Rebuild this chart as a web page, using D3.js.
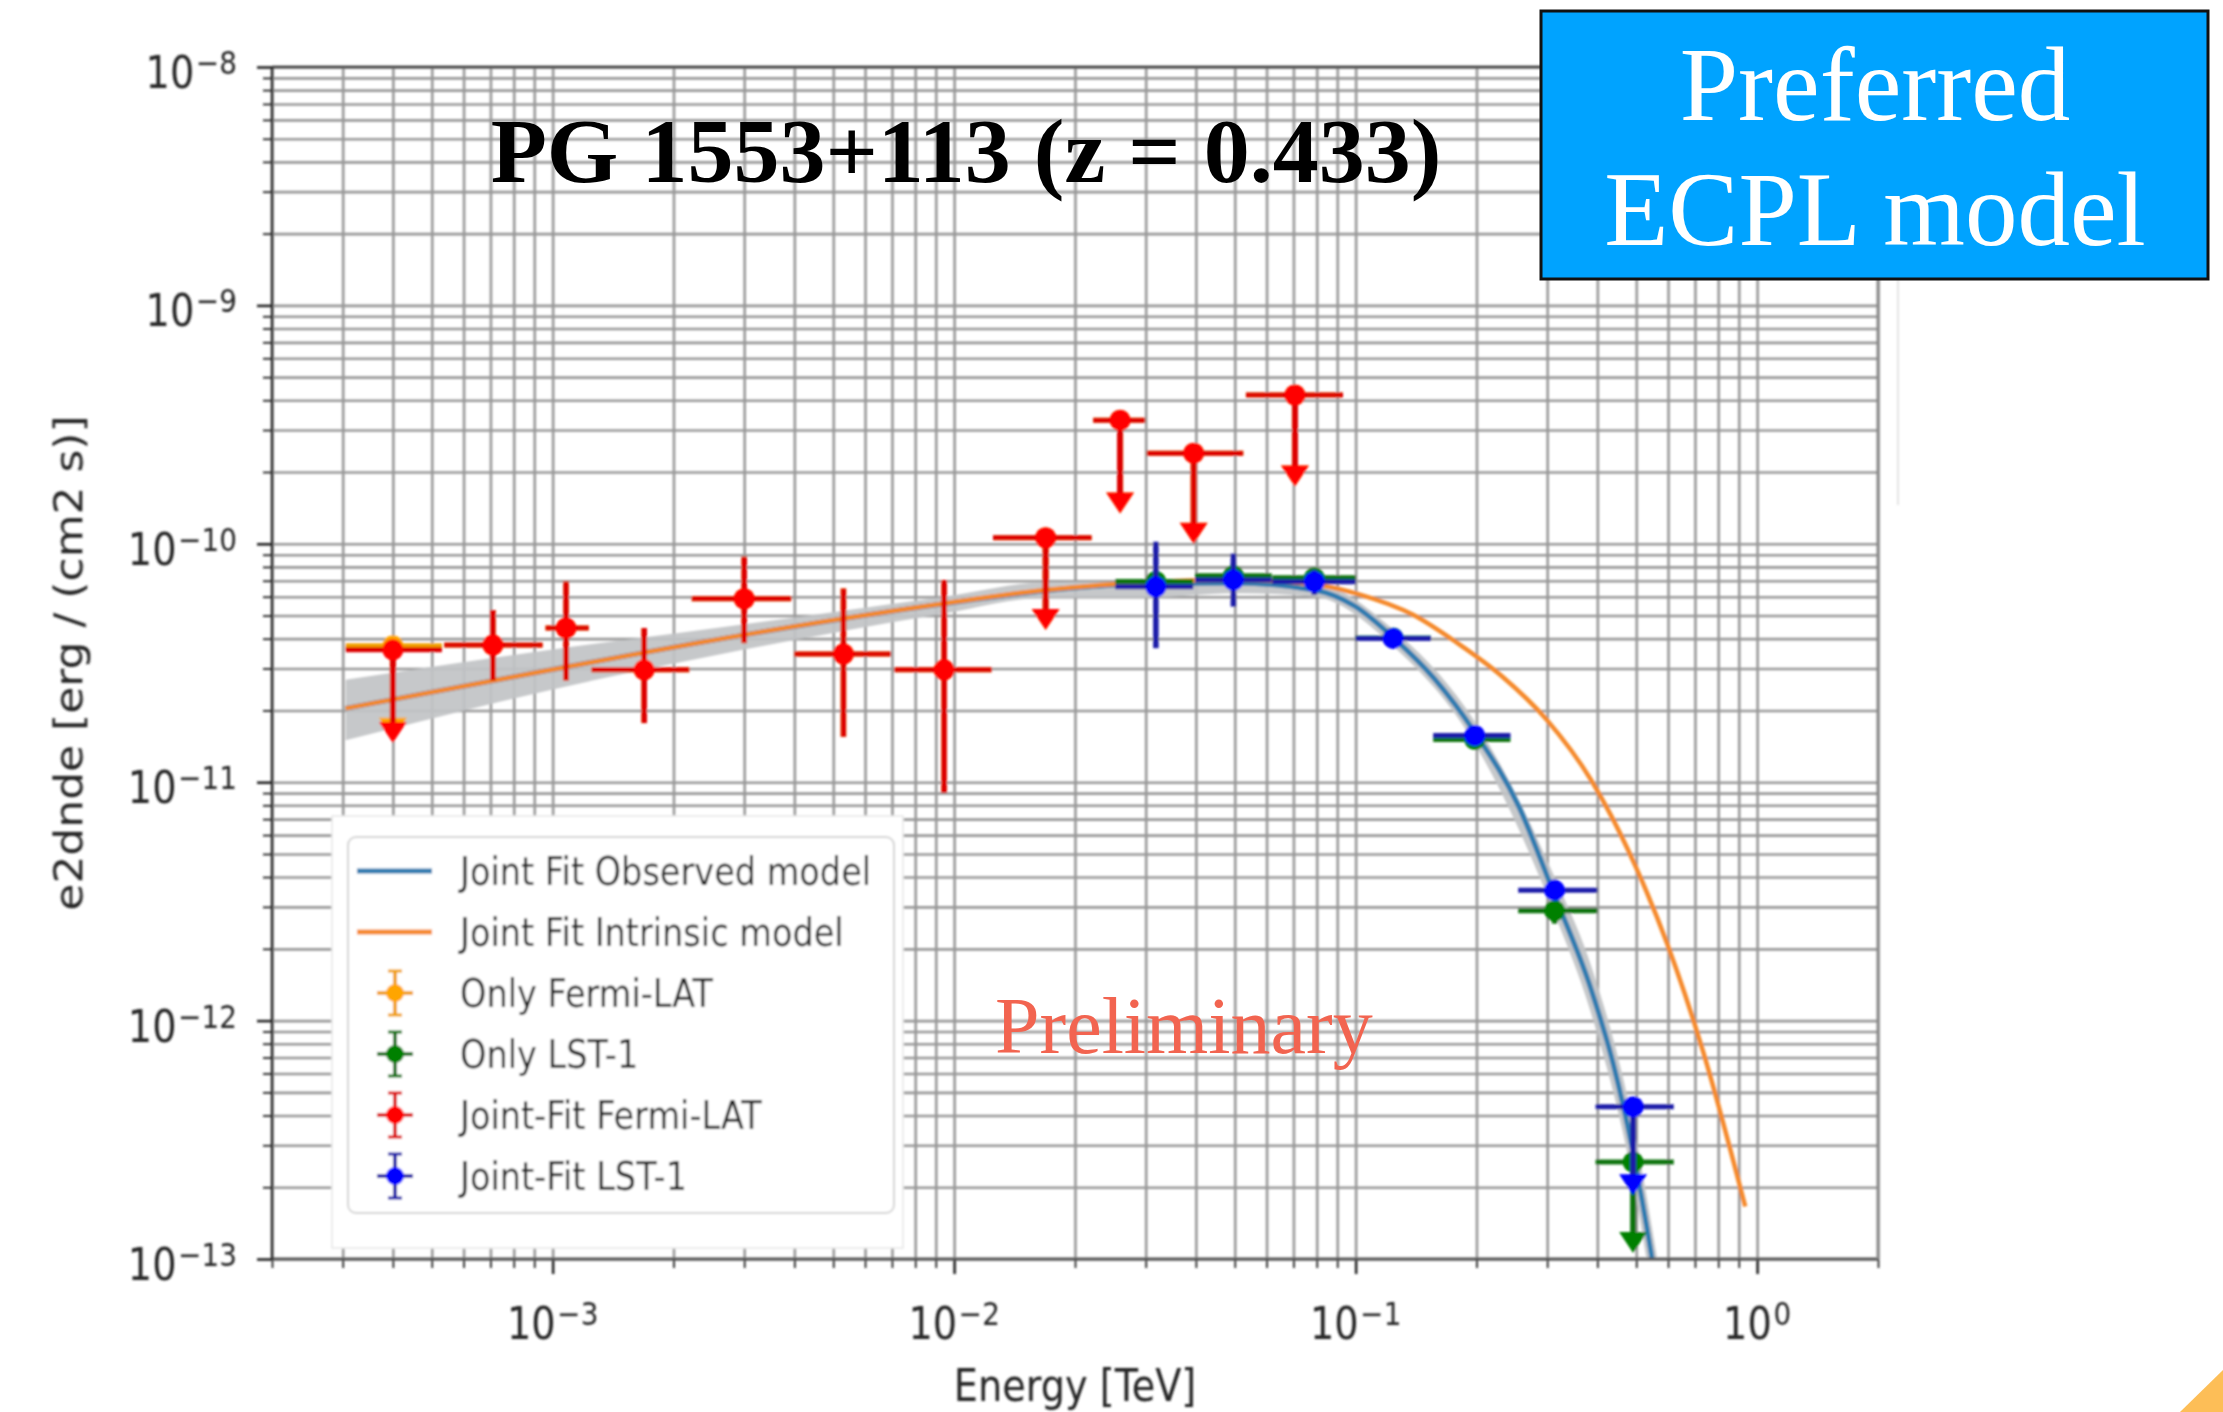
<!DOCTYPE html>
<html>
<head>
<meta charset="utf-8">
<script src="https://cdn.jsdelivr.net/npm/d3@7"></script>
<style>
  html, body { margin: 0; padding: 0; background: #ffffff; }
  svg { display: block; }
</style>
</head>
<body>
<svg id="chart" width="2223" height="1412"></svg>
<script>
// ---------------- data ----------------
// axis limits and labelled ticks
const energyRange = [2e-4, 2];          // TeV
const fluxRange = [1e-13, 1e-8];        // erg / (cm2 s)
const energyTicks = [1e-3, 1e-2, 1e-1, 1e0];
const energyTickExponents = ["\u22123", "\u22122", "\u22121", "0"];
const fluxTicks = [1e-13, 1e-12, 1e-11, 1e-10, 1e-9, 1e-8];
const fluxTickExponents = ["\u221213", "\u221212", "\u221211", "\u221210", "\u22129", "\u22128"];

// Joint-Fit Fermi-LAT flux points (upper limits carry the arrow tip in the "low" list)
const fermiJointEnergy = [4.0e-4, 7.1e-4, 1.08e-3, 1.69e-3, 3.0e-3, 5.3e-3, 9.44e-3, 1.69e-2, 2.59e-2, 3.95e-2, 7.06e-2];
const fermiJointEmin   = [3.05e-4, 5.37e-4, 9.6e-4, 1.25e-3, 2.22e-3, 4.0e-3, 7.1e-3, 1.25e-2, 2.22e-2, 3.02e-2, 5.33e-2];
const fermiJointEmax   = [5.3e-4, 9.44e-4, 1.23e-3, 2.19e-3, 3.93e-3, 6.95e-3, 1.24e-2, 2.2e-2, 2.99e-2, 5.25e-2, 9.3e-2];
const fermiJointFlux   = [3.59e-11, 3.76e-11, 4.43e-11, 2.96e-11, 5.88e-11, 3.45e-11, 2.96e-11, 1.06e-10, 3.30e-10, 2.40e-10, 4.21e-10];
const fermiJointHigh   = [null, 5.27e-11, 6.95e-11, 4.43e-11, 8.83e-11, 6.5e-11, 7.05e-11, null, null, null, null];
const fermiJointLow    = [1.46e-11, 2.67e-11, 2.67e-11, 1.77e-11, 3.83e-11, 1.55e-11, 9.0e-12, 4.35e-11, 1.34e-10, 1.0e-10, 1.74e-10];
const fermiJointUL     = [true, false, false, false, false, false, false, true, true, true, true];

// Fermi-LAT only flux points (same bins)
const fermiOnlyFlux = [3.74e-11, 3.76e-11, 4.43e-11, 2.96e-11, 5.88e-11, 3.45e-11, 2.96e-11, 1.06e-10, 3.30e-10, 2.40e-10, 4.21e-10];
const fermiOnlyHigh = [null, 5.27e-11, 6.95e-11, 4.43e-11, 8.83e-11, 6.5e-11, 7.05e-11, null, null, null, null];
const fermiOnlyLow  = [1.52e-11, 2.67e-11, 2.67e-11, 1.77e-11, 3.83e-11, 1.55e-11, 9.0e-12, 4.35e-11, 1.34e-10, 1.0e-10, 1.74e-10];

// LST-1 energy bins
const lstEnergy = [3.18e-2, 4.96e-2, 7.89e-2, 0.124, 0.198, 0.313, 0.491];
const lstEmin   = [2.52e-2, 3.98e-2, 6.2e-2, 0.1, 0.156, 0.254, 0.396];
const lstEmax   = [3.94e-2, 6.18e-2, 0.1, 0.154, 0.243, 0.40, 0.62];
const lstUL     = [false, false, false, false, false, false, true];

// Joint-Fit LST-1 flux points
const lstJointFlux = [6.6e-11, 7.05e-11, 6.93e-11, 4.01e-11, 1.57e-11, 3.52e-12, 4.35e-13];
const lstJointHigh = [1.02e-10, 9.1e-11, 7.76e-11, 4.4e-11, 1.72e-11, 3.9e-12, null];
const lstJointLow  = [3.65e-11, 5.45e-11, 6.1e-11, 3.7e-11, 1.42e-11, 3.2e-12, 1.85e-13];

// LST-1 only flux points
const lstOnlyFlux = [6.95e-11, 7.35e-11, 7.2e-11, 4.03e-11, 1.51e-11, 2.89e-12, 2.55e-13];
const lstOnlyHigh = [7.6e-11, 8.3e-11, 7.8e-11, 4.4e-11, 1.65e-11, 3.1e-12, null];
const lstOnlyLow  = [6.4e-11, 6.5e-11, 6.7e-11, 3.7e-11, 1.38e-11, 2.55e-12, 1.06e-13];

// joint-fit models (ECPL): intrinsic and EBL-absorbed (observed)
const intrinsicEnergy = [3.05e-4, 1e-3, 3e-3, 9.44e-3, 1.69e-2, 3e-2, 5e-2, 7.9e-2, 0.102, 0.139, 0.179, 0.231, 0.299, 0.386, 0.499, 0.597, 0.733, 0.934];
const intrinsicFlux   = [2.04e-11, 2.97e-11, 4.15e-11, 5.62e-11, 6.4e-11, 6.9e-11, 7.05e-11, 6.75e-11, 6.14e-11, 5.04e-11, 3.84e-11, 2.79e-11, 1.83e-11, 1.02e-11, 4.4e-12, 2.1e-12, 7.45e-13, 1.66e-13];
const observedEnergy  = [3.05e-4, 1e-3, 3e-3, 9.44e-3, 1.69e-2, 3e-2, 5e-2, 7.89e-2, 0.1, 0.1245, 0.157, 0.198, 0.255, 0.313, 0.386, 0.438, 0.491, 0.545, 0.57];
const observedFlux    = [2.04e-11, 2.97e-11, 4.15e-11, 5.6e-11, 6.35e-11, 6.8e-11, 6.85e-11, 6.4e-11, 5.45e-11, 4.02e-11, 2.72e-11, 1.62e-11, 7.9e-12, 3.35e-12, 1.35e-12, 6.6e-13, 2.8e-13, 1.05e-13, 6.5e-14];
// uncertainty band of the observed model
const bandEnergy = [3.05e-4, 1e-3, 3e-3, 9.44e-3, 1.69e-2, 3e-2, 5e-2, 7.89e-2, 0.1245, 0.198, 0.313, 0.386, 0.491, 0.57];
const bandHigh   = [2.69e-11, 3.6e-11, 4.6e-11, 6.0e-11, 6.9e-11, 6.95e-11, 7.2e-11, 6.9e-11, 4.35e-11, 1.8e-11, 4.0e-12, 1.7e-12, 3.7e-13, 9e-14];
const bandLow    = [1.5e-11, 2.45e-11, 3.6e-11, 5.1e-11, 5.94e-11, 5.94e-11, 6.2e-11, 6.0e-11, 3.7e-11, 1.45e-11, 2.8e-12, 1.07e-12, 2.1e-13, 4.6e-14];

const legendLabels = ["Joint Fit Observed model", "Joint Fit Intrinsic model", "Only Fermi-LAT", "Only LST-1", "Joint-Fit Fermi-LAT", "Joint-Fit LST-1"];

// ---------------- layout ----------------
const W = 2223, H = 1412;
const plot = { left: 272, right: 1878, top: 67, bottom: 1259 };
const SQ = 0.87;              // horizontal squeeze of the plot lettering
const sans = "'DejaVu Sans', 'Liberation Sans', sans-serif";
const serif = "'Liberation Serif', 'Times New Roman', serif";

const x = d3.scaleLog().domain(energyRange).range([plot.left, plot.right]);
const y = d3.scaleLog().domain(fluxRange).range([plot.bottom, plot.top]);

const svg = d3.select("#chart");
svg.append("rect").attr("width", W).attr("height", H).attr("fill", "#ffffff");

const defs = svg.append("defs");
defs.append("clipPath").attr("id", "plotClip")
  .append("rect")
  .attr("x", plot.left).attr("y", plot.top)
  .attr("width", plot.right - plot.left).attr("height", plot.bottom - plot.top);
// the figure itself is a little soft
defs.append("filter").attr("id", "soft").attr("x", "-2%").attr("y", "-2%").attr("width", "104%").attr("height", "104%")
  .append("feGaussianBlur").attr("stdDeviation", 0.8);

const fig = svg.append("g").attr("filter", "url(#soft)");

// minor tick positions within a log range
function minorValues(range) {
  const out = [];
  const p0 = Math.floor(Math.log10(range[0])), p1 = Math.ceil(Math.log10(range[1]));
  for (let p = p0; p <= p1; p++) {
    for (let k = 2; k <= 9; k++) {
      const v = k * Math.pow(10, p);
      if (v >= range[0] * 0.999 && v <= range[1] * 1.001) out.push(v);
    }
  }
  return out;
}
const xMinor = minorValues(energyRange);
const yMinor = minorValues(fluxRange);

// ---------------- grid ----------------
const grid = fig.append("g").attr("class", "grid");
grid.append("g")
  .attr("transform", `translate(0,${plot.bottom})`)
  .call(d3.axisBottom(x).tickValues(energyTicks.concat(xMinor)).tickSize(-(plot.bottom - plot.top)).tickFormat(""))
  .call(g => g.select(".domain").remove())
  .call(g => g.selectAll("line").attr("stroke", "#989898").attr("stroke-width", 2.6));
grid.append("g")
  .attr("transform", `translate(${plot.left},0)`)
  .call(d3.axisLeft(y).tickValues(fluxTicks.concat(yMinor)).tickSize(-(plot.right - plot.left)).tickFormat(""))
  .call(g => g.select(".domain").remove())
  .call(g => g.selectAll("line").attr("stroke", "#989898").attr("stroke-width", 2.6));

// ---------------- models ----------------
const data = fig.append("g").attr("clip-path", "url(#plotClip)");

const band = bandEnergy.map((e, i) => [e, bandLow[i], bandHigh[i]]);
data.append("path")
  .datum(band)
  .attr("d", d3.area().x(d => x(d[0])).y0(d => y(d[1])).y1(d => y(d[2])).curve(d3.curveMonotoneX))
  .attr("fill", "#c1c3c6").attr("opacity", 0.92);

const modelLine = d3.line().x(d => x(d[0])).y(d => y(d[1])).curve(d3.curveMonotoneX);
data.append("path")
  .datum(observedEnergy.map((e, i) => [e, observedFlux[i]]))
  .attr("d", modelLine)
  .attr("fill", "none").attr("stroke", "#2f7bb0").attr("stroke-width", 5);
data.append("path")
  .datum(intrinsicEnergy.map((e, i) => [e, intrinsicFlux[i]]))
  .attr("d", modelLine)
  .attr("fill", "none").attr("stroke", "#f5892a").attr("stroke-width", 4.5);

// ---------------- flux points ----------------
function drawPoints(layer, s) {
  const g = layer.append("g");
  s.energy.forEach((e, i) => {
    const cx = x(e), cy = y(s.flux[i]);
    g.append("line")
      .attr("x1", x(s.emin[i])).attr("x2", x(s.emax[i]))
      .attr("y1", cy).attr("y2", cy)
      .attr("stroke", s.line).attr("stroke-width", 5);
    if (s.ul[i]) {
      const tip = y(s.low[i]);
      g.append("line")
        .attr("x1", cx).attr("x2", cx).attr("y1", cy).attr("y2", tip - 16)
        .attr("stroke", s.line).attr("stroke-width", 6);
      g.append("path")
        .attr("d", `M${cx - 14},${tip - 21}L${cx + 14},${tip - 21}L${cx},${tip}Z`)
        .attr("fill", s.marker);
    } else {
      g.append("line")
        .attr("x1", cx).attr("x2", cx).attr("y1", y(s.high[i])).attr("y2", y(s.low[i]))
        .attr("stroke", s.line).attr("stroke-width", 5.5);
    }
    g.append("circle").attr("cx", cx).attr("cy", cy).attr("r", 10.5).attr("fill", s.marker);
  });
}

const styles = {
  fermiOnly:  { line: "#f0a000", marker: "#ffa500" },
  lstOnly:    { line: "#0e730e", marker: "#008000" },
  fermiJoint: { line: "#dc0000", marker: "#ff0000" },
  lstJoint:   { line: "#1a1aa8", marker: "#0000ff" }
};

drawPoints(data, Object.assign({ energy: fermiJointEnergy, emin: fermiJointEmin, emax: fermiJointEmax,
  flux: fermiOnlyFlux, high: fermiOnlyHigh, low: fermiOnlyLow, ul: fermiJointUL }, styles.fermiOnly));
drawPoints(data, Object.assign({ energy: lstEnergy, emin: lstEmin, emax: lstEmax,
  flux: lstOnlyFlux, high: lstOnlyHigh, low: lstOnlyLow, ul: lstUL }, styles.lstOnly));
drawPoints(data, Object.assign({ energy: fermiJointEnergy, emin: fermiJointEmin, emax: fermiJointEmax,
  flux: fermiJointFlux, high: fermiJointHigh, low: fermiJointLow, ul: fermiJointUL }, styles.fermiJoint));
drawPoints(data, Object.assign({ energy: lstEnergy, emin: lstEmin, emax: lstEmax,
  flux: lstJointFlux, high: lstJointHigh, low: lstJointLow, ul: lstUL }, styles.lstJoint));

// ---------------- axes ----------------
const axes = fig.append("g").attr("class", "axes");
function styleTicks(g, w) {
  g.select(".domain").remove();
  g.selectAll("line").attr("stroke", "#222").attr("stroke-width", w);
  g.selectAll("text").remove();
}
axes.append("g").attr("transform", `translate(0,${plot.bottom})`)
  .call(d3.axisBottom(x).tickValues(xMinor).tickSize(9)).call(g => styleTicks(g, 1.8));
axes.append("g").attr("transform", `translate(0,${plot.bottom})`)
  .call(d3.axisBottom(x).tickValues(energyTicks).tickSize(15)).call(g => styleTicks(g, 2.6));
axes.append("g").attr("transform", `translate(${plot.left},0)`)
  .call(d3.axisLeft(y).tickValues(yMinor).tickSize(9)).call(g => styleTicks(g, 1.8));
axes.append("g").attr("transform", `translate(${plot.left},0)`)
  .call(d3.axisLeft(y).tickValues(fluxTicks).tickSize(15)).call(g => styleTicks(g, 2.6));

// spines
axes.append("line").attr("x1", plot.left).attr("x2", plot.right).attr("y1", plot.top).attr("y2", plot.top)
  .attr("stroke", "#333").attr("stroke-width", 2.5);
axes.append("line").attr("x1", plot.left).attr("x2", plot.right).attr("y1", plot.bottom).attr("y2", plot.bottom)
  .attr("stroke", "#555").attr("stroke-width", 3);
axes.append("line").attr("x1", plot.left).attr("x2", plot.left).attr("y1", plot.top).attr("y2", plot.bottom)
  .attr("stroke", "#222").attr("stroke-width", 2.5);
axes.append("line").attr("x1", plot.right).attr("x2", plot.right).attr("y1", plot.top).attr("y2", plot.bottom)
  .attr("stroke", "#8a8a8a").attr("stroke-width", 3);

// faint figure edge on the right
fig.append("line").attr("x1", 1898).attr("x2", 1898).attr("y1", 279).attr("y2", 505)
  .attr("stroke", "#e4e4e4").attr("stroke-width", 2);

// tick labels  (10 with a superscript exponent)
function powerLabel(g, px, py, exponent, anchor) {
  const t = g.append("text")
    .attr("transform", `translate(${px},${py}) scale(${SQ},1)`)
    .attr("text-anchor", anchor)
    .attr("font-family", sans).attr("font-size", 44).attr("fill", "#262626");
  t.append("tspan").text("10");
  t.append("tspan").attr("dx", 2).attr("dy", -14).attr("font-size", 32).text(exponent);
}
const labels = fig.append("g");
energyTicks.forEach((v, i) => powerLabel(labels, x(v), 1339, energyTickExponents[i], "middle"));
fluxTicks.forEach((v, i) => powerLabel(labels, 237, y(v) + 21, fluxTickExponents[i], "end"));

labels.append("text")
  .attr("transform", `translate(${(plot.left + plot.right) / 2},1401) scale(${SQ},1)`)
  .attr("text-anchor", "middle").attr("font-family", sans).attr("font-size", 44).attr("fill", "#262626")
  .text("Energy [TeV]");
labels.append("text")
  .attr("transform", `translate(82,${(plot.top + plot.bottom) / 2}) scale(${SQ},1) rotate(-90)`)
  .attr("text-anchor", "middle").attr("font-family", sans).attr("font-size", 44).attr("fill", "#262626")
  .text("e2dnde [erg / (cm2 s)]");

// ---------------- legend ----------------
const legend = fig.append("g");
legend.append("rect").attr("x", 332).attr("y", 816).attr("width", 571).attr("height", 432)
  .attr("fill", "#ffffff").attr("stroke", "#e6e6e6").attr("stroke-width", 1.5);
legend.append("rect").attr("x", 348).attr("y", 837).attr("width", 546).attr("height", 376).attr("rx", 8)
  .attr("fill", "#ffffff").attr("stroke", "#d4d4d4").attr("stroke-width", 2);

const rowY = d3.range(legendLabels.length).map(i => 871 + i * 61);
const handleStyles = [
  { kind: "line", color: "#2f7bb0" },
  { kind: "line", color: "#f5892a" },
  Object.assign({ kind: "err" }, styles.fermiOnly),
  Object.assign({ kind: "err" }, styles.lstOnly),
  Object.assign({ kind: "err" }, styles.fermiJoint),
  Object.assign({ kind: "err" }, styles.lstJoint)
];
legendLabels.forEach((label, i) => {
  const cy = rowY[i], hs = handleStyles[i];
  if (hs.kind === "line") {
    legend.append("line").attr("x1", 357).attr("x2", 432).attr("y1", cy).attr("y2", cy)
      .attr("stroke", hs.color).attr("stroke-width", 5);
  } else {
    const cx = 395;
    legend.append("line").attr("x1", cx).attr("x2", cx).attr("y1", cy - 22).attr("y2", cy + 22)
      .attr("stroke", hs.line).attr("stroke-width", 4);
    [-22, 22].forEach(dy => legend.append("line").attr("x1", cx - 7).attr("x2", cx + 7)
      .attr("y1", cy + dy).attr("y2", cy + dy).attr("stroke", hs.line).attr("stroke-width", 3));
    legend.append("line").attr("x1", cx - 18).attr("x2", cx + 18).attr("y1", cy).attr("y2", cy)
      .attr("stroke", hs.line).attr("stroke-width", 4);
    legend.append("circle").attr("cx", cx).attr("cy", cy).attr("r", 9).attr("fill", hs.marker);
  }
  legend.append("text")
    .attr("transform", `translate(460,${cy + 14}) scale(0.86,1)`)
    .attr("font-family", sans).attr("font-size", 39).attr("fill", "#262626")
    .text(label);
});

// ---------------- annotations ----------------
svg.append("text")
  .attr("x", 995).attr("y", 1053)
  .attr("font-family", serif).attr("font-size", 80).attr("fill", "#f26450")
  .text("Preliminary");

svg.append("text")
  .attr("x", 966).attr("y", 182).attr("text-anchor", "middle")
  .attr("font-family", serif).attr("font-weight", "bold").attr("font-size", 92).attr("fill", "#000")
  .text("PG 1553+113 (z = 0.433)");

const box = svg.append("g");
box.append("rect").attr("x", 1541).attr("y", 11).attr("width", 667).attr("height", 268)
  .attr("fill", "#00a3ff").attr("stroke", "#111").attr("stroke-width", 3);
[["Preferred", 120], ["ECPL model", 245]].forEach(([t, by]) => {
  box.append("text").attr("x", 1875).attr("y", by).attr("text-anchor", "middle")
    .attr("font-family", serif).attr("font-size", 105).attr("fill", "#ffffff").text(t);
});

// slide corner accent
svg.append("path").attr("d", "M2180,1412L2223,1370L2223,1412Z").attr("fill", "#fdbe57");
</script>
</body>
</html>
